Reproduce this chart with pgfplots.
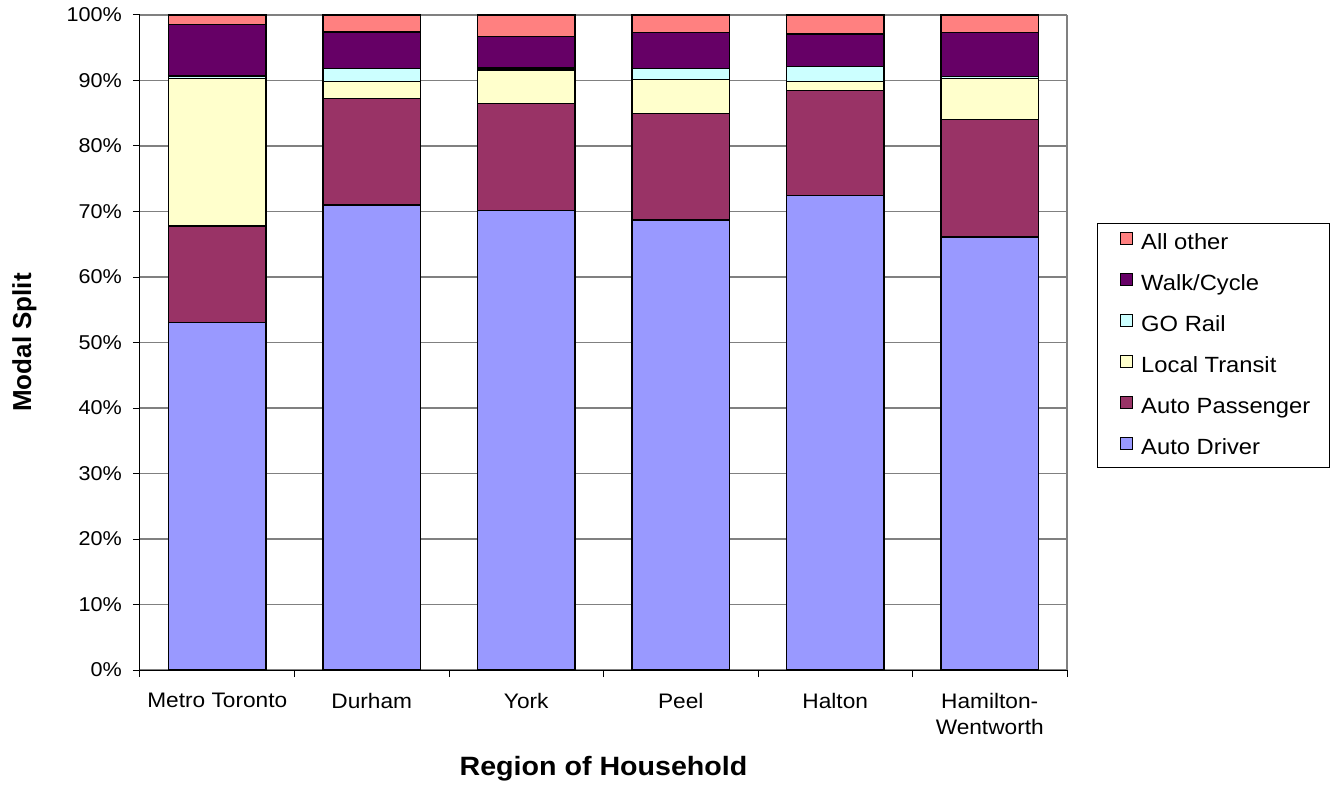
\documentclass[border=0pt]{standalone}
\usepackage{fontspec}
\setmainfont{Liberation Sans}[FakeStretch=1.08]
\newfontfamily\ylabfont{Liberation Sans}
\usepackage{pgfplots}
\pgfplotsset{compat=1.18}
\definecolor{cDriver}{HTML}{9999FF}
\definecolor{cPass}{HTML}{993366}
\definecolor{cLocal}{HTML}{FFFFCC}
\definecolor{cGo}{HTML}{CCFFFF}
\definecolor{cWalk}{HTML}{660066}
\definecolor{cOther}{HTML}{FF8080}
\pgfplotsset{
  seg/.style={fill=#1, draw=black, line width=1.2pt,
    legend image code/.code={\path (0pt,0pt); \draw[fill=#1, draw=black, line width=1.2pt] (3pt,-1.5pt) rectangle (15.5pt,11pt);}}
}
\begin{document}
\begin{tikzpicture}
\useasboundingbox (-140pt,-115pt) rectangle (1195pt,670pt);
\begin{axis}[
  at={(0pt,0pt)}, anchor=south west,
  scale only axis, width=927pt, height=655pt,
  ybar stacked, bar width=0.63,
  xmin=-0.5, xmax=5.5, ymin=0, ymax=100,
  axis x line*=bottom, axis y line*=left,
  axis line style={black, line width=1pt, -},
  xtick={0,...,5},
  xticklabels={Metro Toronto, Durham, York, Peel, Halton, {Hamilton-\\Wentworth}},
  major x tick style={draw=none},
  minor xtick={-0.5,0.5,1.5,2.5,3.5,4.5,5.5},
  minor x tick style={black, line width=1pt},
  minor tick length=7pt,
  ytick={0,10,...,100},
  major tick length=7pt,
  tick align=outside,
  y tick style={black, line width=1pt},
  ymajorgrids, major grid style={draw=gray, line width=1.2pt},
  /pgf/number format/assume math mode=true,
  yticklabel={\pgfmathprintnumber{\tick}\%},
  yticklabel style={font=\fontsize{20}{24}\selectfont, anchor=east, inner sep=0pt, xshift=-11pt},
  xticklabel style={font=\fontsize{21}{26}\selectfont, anchor=north, align=center, inner sep=0pt, yshift=-16pt},
  xlabel={Region of Household},
  xlabel style={font=\fontsize{26.5}{30}\selectfont\bfseries, at={(axis description cs:0.5,-0.1504)}, anchor=center},
  ylabel={Modal Split},
  ylabel style={font=\ylabfont\fontsize{26}{30}\selectfont\bfseries, at={(axis description cs:-0.1246,0.5)}, anchor=center, rotate=0},
  reverse legend,
  legend cell align=left,
  legend style={at={(rel axis cs:1.0324,0.6824)}, anchor=north west,
    draw=black, line width=1pt, fill=white,
    font=\fontsize{22}{26}\selectfont,
    inner xsep=19pt, inner ysep=8pt, row sep=18.4pt, column sep=8pt,
    nodes={inner sep=0pt, text height=17pt, text depth=5pt}},
  after end axis/.code={\draw[gray, line width=1.2pt] (rel axis cs:1,0) -- (rel axis cs:1,1);},
]
\addplot[seg=cDriver] coordinates {(0,53.0) (1,71.0) (2,70.1) (3,68.7) (4,72.5) (5,66.1)};
\addplot[seg=cPass] coordinates {(0,14.8) (1,16.2) (2,16.4) (3,16.3) (4,16.0) (5,17.9)};
\addplot[seg=cLocal] coordinates {(0,22.5) (1,2.7) (2,5.1) (3,5.2) (4,1.4) (5,6.3)};
\addplot[seg=cGo] coordinates {(0,0.4) (1,1.9) (2,0.3) (3,1.6) (4,2.2) (5,0.3)};
\addplot[seg=cWalk] coordinates {(0,7.9) (1,5.6) (2,4.8) (3,5.5) (4,5.0) (5,6.7)};
\addplot[seg=cOther] coordinates {(0,1.4) (1,2.6) (2,3.3) (3,2.7) (4,2.9) (5,2.7)};
\legend{Auto Driver, Auto Passenger, Local Transit, GO Rail, Walk/Cycle, All other}
\end{axis}
\end{tikzpicture}
\end{document}
